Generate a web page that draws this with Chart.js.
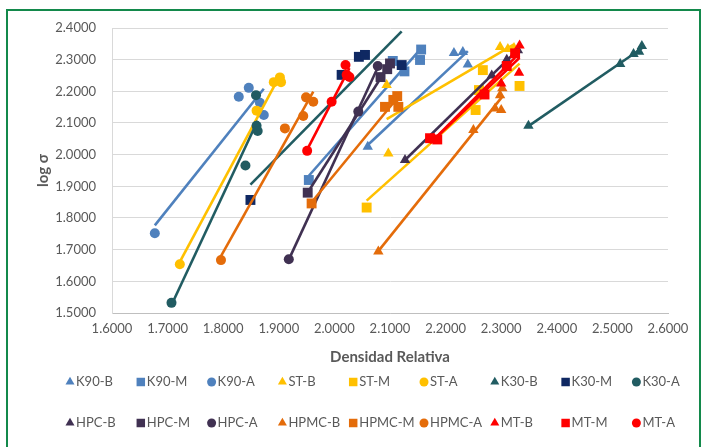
<!DOCTYPE html>
<html>
  <head>
    <title>log sigma vs Densidad Relativa</title>
    <script src="https://cdn.jsdelivr.net/npm/chart.js"></script>
    <style>
      body { margin: 0; background: #fff; }
      #frame { position: absolute; left: 6px; top: 9px; width: 691px; height: 470px; border: 2px solid #13894b; }
      #myChart { position: absolute; left: 0; top: 0; }
    </style>
  </head>
  <body>
    <div id="frame"></div>
    <canvas id="myChart" width="705" height="447"></canvas>
    <script>
      // series points: [densidad relativa, log sigma]
      var k90B = [[2.060, 2.025], [2.215, 2.321], [2.231, 2.324], [2.240, 2.285]];
      var k90M = [[1.954, 1.920], [2.105, 2.296], [2.126, 2.263], [2.154, 2.299], [2.156, 2.332]];
      var k90A = [[1.677, 1.752], [1.828, 2.183], [1.846, 2.211], [1.866, 2.164], [1.873, 2.125]];
      var stB = [[2.094, 2.220], [2.097, 2.004], [2.298, 2.340], [2.312, 2.334], [2.323, 2.337]];
      var stM = [[2.058, 1.833], [2.254, 2.141], [2.260, 2.204], [2.267, 2.267], [2.333, 2.217]];
      var stA = [[1.722, 1.654], [1.860, 2.139], [1.891, 2.229], [1.902, 2.244], [1.904, 2.229]];
      var k30B = [[2.349, 2.091], [2.514, 2.286], [2.538, 2.318], [2.548, 2.325], [2.553, 2.343]];
      var k30M = [[1.849, 1.857], [2.013, 2.252], [2.044, 2.309], [2.055, 2.315], [2.121, 2.283]];
      var k30A = [[1.707, 1.532], [1.840, 1.966], [1.859, 2.188], [1.860, 2.091], [1.862, 2.075]];
      var hpcB = [[2.127, 1.983], [2.283, 2.250], [2.310, 2.300], [2.330, 2.330]];
      var hpcM = [[1.952, 1.880], [2.083, 2.245], [2.095, 2.270], [2.100, 2.288]];
      var hpcA = [[1.918, 1.670], [2.043, 2.136], [2.078, 2.280]];
      var hpmcB = [[2.079, 1.694], [2.250, 2.078], [2.289, 2.146], [2.298, 2.188], [2.300, 2.141], [2.302, 2.210]];
      var hpmcM = [[1.959, 1.846], [2.091, 2.151], [2.106, 2.173], [2.113, 2.185], [2.115, 2.151]];
      var hpmcA = [[1.796, 1.667], [1.911, 2.083], [1.944, 2.122], [1.949, 2.181], [1.962, 2.167]];
      var mtB = [[2.178, 2.050], [2.300, 2.225], [2.332, 2.259], [2.333, 2.345], [2.325, 2.320]];
      var mtM = [[2.172, 2.052], [2.185, 2.048], [2.270, 2.190], [2.310, 2.280], [2.325, 2.320]];
      var mtA = [[1.951, 2.012], [1.995, 2.167], [2.020, 2.283], [2.022, 2.252], [2.027, 2.245]];

      var seriesNames = ["K90-B", "K90-M", "K90-A", "ST-B", "ST-M", "ST-A", "K30-B", "K30-M", "K30-A",
        "HPC-B", "HPC-M", "HPC-A", "HPMC-B", "HPMC-M", "HPMC-A", "MT-B", "MT-M", "MT-A"];
      var seriesData = [k90B, k90M, k90A, stB, stM, stA, k30B, k30M, k30A,
        hpcB, hpcM, hpcA, hpmcB, hpmcM, hpmcA, mtB, mtM, mtA];
      var seriesColors = ["#4f81bd", "#4f81bd", "#4f81bd", "#ffc000", "#ffc000", "#ffc000",
        "#215c62", "#0f2862", "#215c62", "#403152", "#403152", "#403152",
        "#e46c0a", "#e46c0a", "#e46c0a", "#ff0000", "#ff0000", "#ff0000"];
      var trendColors = seriesColors.slice();
      trendColors[7] = "#215c62";
      var markerStyles = ["triangle", "rect", "circle"];

      var xTicks = [1.6, 1.7, 1.8, 1.9, 2.0, 2.1, 2.2, 2.3, 2.4, 2.5, 2.6];
      var yTicks = [1.5, 1.6, 1.7, 1.8, 1.9, 2.0, 2.1, 2.2, 2.3, 2.4];

      // linear trendline (least squares) over the range of the points
      function trend(pts) {
        var n = pts.length, sx = 0, sy = 0, sxx = 0, sxy = 0;
        pts.forEach(function (p) {
          sx += p[0]; sy += p[1]; sxx += p[0] * p[0]; sxy += p[0] * p[1];
        });
        var m = (n * sxy - sx * sy) / (n * sxx - sx * sx);
        var b = (sy - m * sx) / n;
        var xs = pts.map(function (p) { return p[0]; });
        var x0 = Math.min.apply(null, xs), x1 = Math.max.apply(null, xs);
        return [{ x: x0, y: m * x0 + b }, { x: x1, y: m * x1 + b }];
      }

      var datasets = [];
      seriesNames.forEach(function (name, i) {
        var style = markerStyles[i % 3];
        datasets.push({
          label: name,
          data: seriesData[i].map(function (p) { return { x: p[0], y: p[1] }; }),
          pointStyle: style,
          pointRadius: style == "circle" ? 5 : (style == "rect" ? 7 : 6),
          backgroundColor: seriesColors[i],
          borderColor: seriesColors[i],
          borderWidth: 0,
          showLine: false,
          order: 2 * (18 - i) + 1
        });
        datasets.push({
          label: name + " trend",
          data: trend(seriesData[i]),
          showLine: true,
          borderColor: trendColors[i],
          borderWidth: 2.6,
          pointRadius: 0,
          fill: false,
          order: 2 * (18 - i)
        });
      });

      var gridLegend = {
        id: "gridLegend",
        afterDraw: function (chart) {
          var ctx = chart.ctx;
          ctx.save();
          ctx.font = "13px Lato";
          ctx.textBaseline = "middle";
          seriesNames.forEach(function (name, i) {
            var x = 70 + (i % 9) * 70.8;
            var y = 382 + Math.floor(i / 9) * 41;
            var style = markerStyles[i % 3];
            ctx.fillStyle = seriesColors[i];
            Chart.helpers.drawPoint(ctx, {
              pointStyle: style,
              radius: style == "rect" ? 6 : (style == "triangle" ? 5.2 : 4.5),
              rotation: 0,
              borderWidth: 0
            }, x, y);
            ctx.fillStyle = "#595959";
            ctx.fillText(name, x + 6, y);
          });
          ctx.restore();
        }
      };

      var ctx = document.getElementById("myChart").getContext("2d");
      var myChart = new Chart(ctx, {
        type: "scatter",
        data: { datasets: datasets },
        plugins: [gridLegend],
        options: {
          responsive: false,
          animation: false,
          layout: { padding: { left: 8, top: 28, right: 37, bottom: 74 } },
          plugins: { legend: { display: false }, tooltip: { enabled: false } },
          scales: {
            x: {
              min: 1.6,
              max: 2.6,
              afterBuildTicks: function (s) { s.ticks = xTicks.map(function (v) { return { value: v }; }); },
              afterFit: function (s) { s.height = 60; },
              grid: { display: false, drawTicks: false },
              border: { color: "#bfbfbf" },
              ticks: {
                padding: 8,
                color: "#595959",
                font: { family: "Lato", size: 13 },
                callback: function (v) { return Number(v).toFixed(4); }
              },
              title: {
                display: true,
                text: "Densidad Relativa",
                color: "#595959",
                font: { family: "Lato", size: 15, weight: "bold" },
                padding: { top: 0, bottom: 7 }
              }
            },
            y: {
              min: 1.5,
              max: 2.4,
              afterBuildTicks: function (s) { s.ticks = yTicks.map(function (v) { return { value: v }; }); },
              afterFit: function (s) { s.width = 104; },
              grid: { color: "#d9d9d9", drawTicks: false },
              border: { color: "#d9d9d9" },
              ticks: {
                padding: 16,
                color: "#595959",
                font: { family: "Lato", size: 13 },
                callback: function (v) { return Number(v).toFixed(4); }
              },
              title: {
                display: true,
                text: "log σ",
                color: "#595959",
                font: { family: "Lato", size: 15, weight: "bold" },
                padding: { top: 26, bottom: 0 }
              }
            }
          }
        }
      });
    </script>
  </body>
</html>
